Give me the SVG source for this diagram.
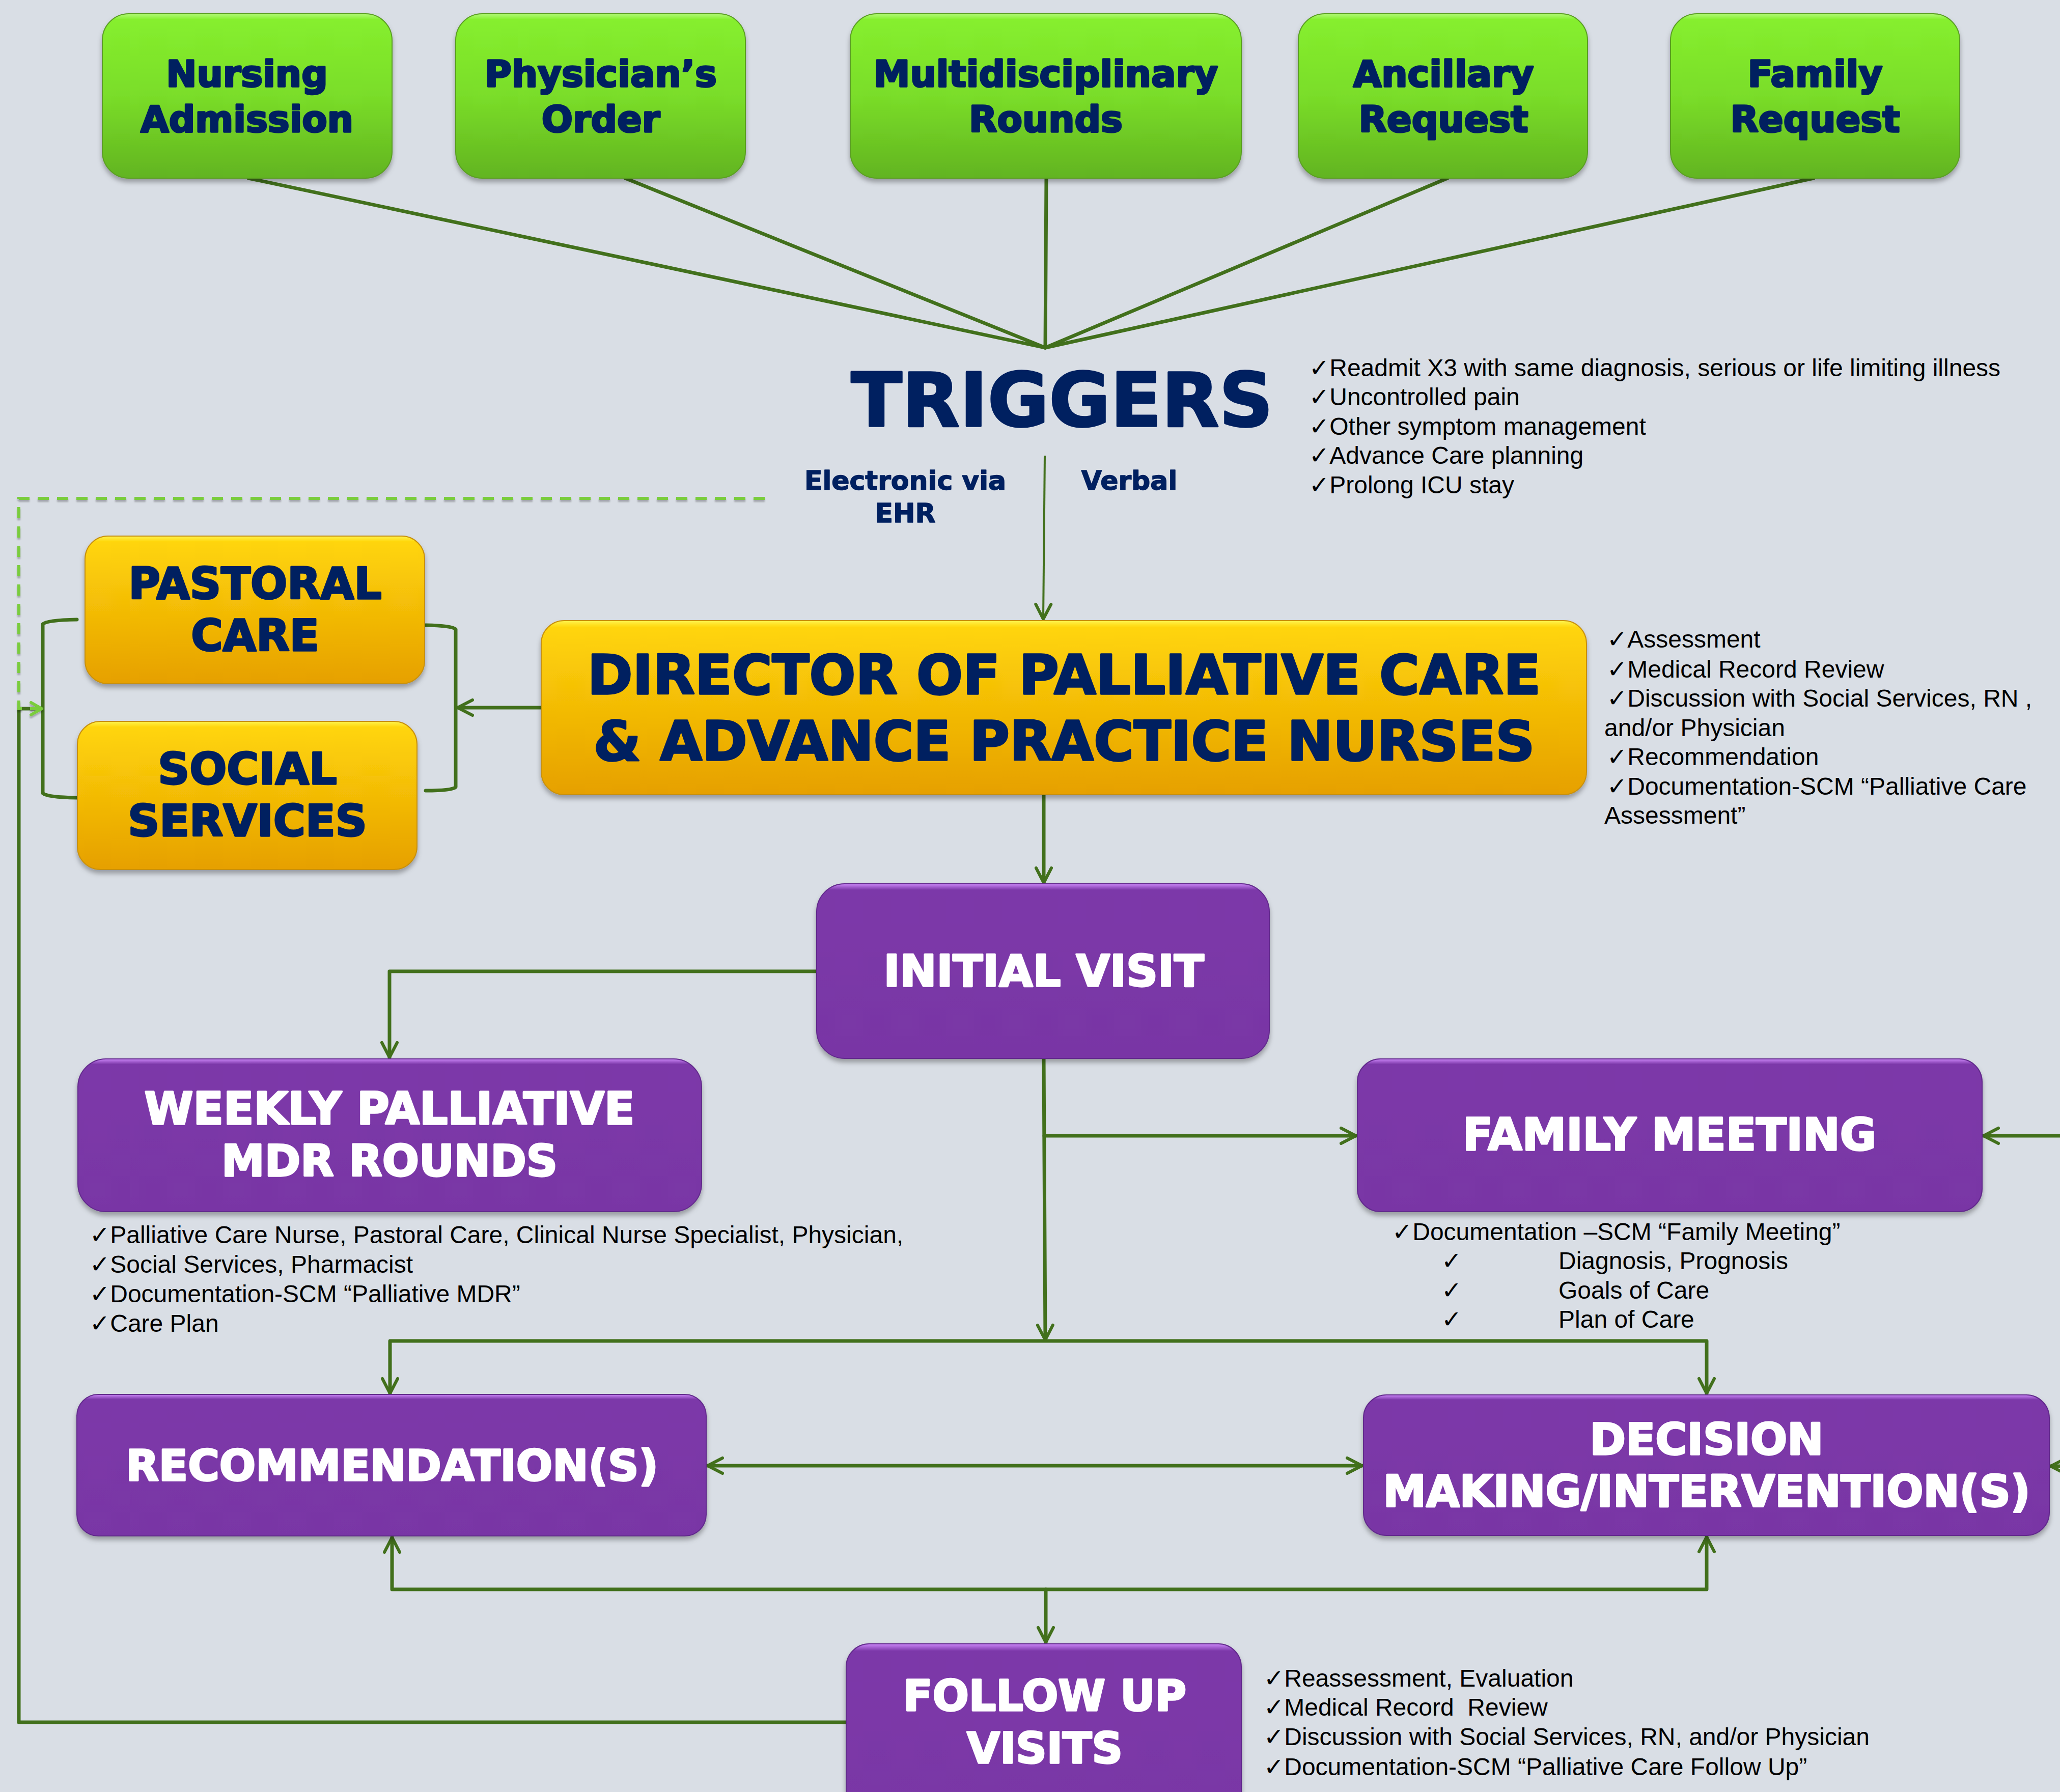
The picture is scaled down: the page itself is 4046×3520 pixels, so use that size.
<svg xmlns="http://www.w3.org/2000/svg" width="4046" height="3520" viewBox="0 0 4046 3520">
<defs>
<style>
.hd{font-family:'DejaVu Sans','Liberation Sans',sans-serif;font-weight:bold;text-anchor:middle}
.navy{fill:#002060;stroke:#002060;stroke-width:3.5;stroke-linejoin:round}
.sm{stroke-width:1.5}
.wh{fill:#ffffff;stroke:#ffffff;stroke-width:3.5;stroke-linejoin:round}
.bul{font-family:'Liberation Sans','DejaVu Sans',sans-serif;font-size:48px;fill:#000000}
.ln{stroke:#42701C;stroke-width:7;fill:none;stroke-linecap:round;stroke-linejoin:round}
.thin{stroke:#42701C;stroke-width:4;fill:none}
.gbox{fill:url(#gG);stroke:#5A9E24;stroke-width:2;filter:url(#sh)}
.ybox{fill:url(#yG);stroke:#C8900A;stroke-width:2;filter:url(#sh)}
.pbox{fill:url(#pG);stroke:#62298C;stroke-width:2;filter:url(#sh)}
</style>
<linearGradient id="gG" x1="0" y1="0" x2="0" y2="1">
<stop offset="0" stop-color="#B2FA78"/><stop offset="0.035" stop-color="#86EF2E"/><stop offset="0.5" stop-color="#7ADD29"/><stop offset="1" stop-color="#62B420"/>
</linearGradient>
<linearGradient id="yG" x1="0" y1="0" x2="0" y2="1">
<stop offset="0" stop-color="#FFF44E"/><stop offset="0.04" stop-color="#FFD508"/><stop offset="1" stop-color="#E6A004"/>
</linearGradient>
<linearGradient id="pG" x1="0" y1="0" x2="0" y2="1">
<stop offset="0" stop-color="#CB86F7"/><stop offset="0.035" stop-color="#7C38A9"/><stop offset="1" stop-color="#7936A5"/>
</linearGradient>
<filter id="sh" x="-5%" y="-5%" width="110%" height="125%">
<feDropShadow dx="0" dy="7" stdDeviation="5" flood-color="#000" flood-opacity="0.3"/>
</filter>
<filter id="lsh" x="-5%" y="-5%" width="110%" height="110%">
<feDropShadow dx="0" dy="4" stdDeviation="1.5" flood-color="#000" flood-opacity="0.25"/>
</filter>
<marker id="ah" viewBox="-40 -25 50 50" refX="0" refY="0" markerWidth="50" markerHeight="50" markerUnits="userSpaceOnUse" orient="auto-start-reverse">
<path d="M-29,-15 L0,0 L-29,15" fill="none" stroke="#42701C" stroke-width="6" stroke-linecap="round" stroke-linejoin="round"/>
</marker>
<marker id="ahl" viewBox="-40 -25 50 50" refX="0" refY="0" markerWidth="50" markerHeight="50" markerUnits="userSpaceOnUse" orient="auto">
<path d="M-21,-12 L0,0 L-21,12" fill="none" stroke="#7ACC3C" stroke-width="6" stroke-linecap="round" stroke-linejoin="round"/>
</marker>
</defs>

<rect x="0" y="0" width="4046" height="3520" fill="#D9DEE5"/>

<g id="connectors">
<line class="ln" x1="488" y1="350" x2="2053" y2="683"/>
<line class="ln" x1="1228" y1="350" x2="2053" y2="683"/>
<line class="ln" x1="2055" y1="350" x2="2053" y2="683"/>
<line class="ln" x1="2843" y1="350" x2="2053" y2="683"/>
<line class="ln" x1="3562" y1="350" x2="2053" y2="683"/>
<line class="thin" x1="2052" y1="895" x2="2049" y2="1216" marker-end="url(#ah)"/>
<line class="ln" x1="2050" y1="1562" x2="2050" y2="1734" marker-end="url(#ah)"/>
<line class="ln" x1="1063" y1="1390" x2="899" y2="1390" marker-end="url(#ah)"/>
<path class="ln" d="M151,1217 Q92,1218 84,1226 L84,1558 Q92,1566 151,1567"/>
<path class="ln" d="M836,1228 Q888,1229 895,1236 L895,1546 Q888,1553 836,1553"/>
<polyline class="ln" points="1604,1908 765,1908 765,2077" marker-end="url(#ah)"/>
<line class="ln" x1="2050" y1="2079" x2="2053" y2="2632" marker-end="url(#ah)"/>
<line class="ln" x1="2051" y1="2231" x2="2663" y2="2231" marker-end="url(#ah)"/>
<line class="ln" x1="4050" y1="2231" x2="3896" y2="2231" marker-end="url(#ah)"/>
<polyline class="ln" points="766,2737 766,2634 3352,2634 3352,2737" marker-start="url(#ah)" marker-end="url(#ah)"/>
<line class="ln" x1="1390" y1="2879" x2="2675" y2="2879" marker-start="url(#ah)" marker-end="url(#ah)"/>
<line class="ln" x1="4060" y1="2880" x2="4028" y2="2880" marker-end="url(#ah)"/>
<polyline class="ln" points="770,3020 770,3122 3352,3122 3352,3019" marker-start="url(#ah)" marker-end="url(#ah)"/>
<line class="ln" x1="2054" y1="3122" x2="2054" y2="3226" marker-end="url(#ah)"/>
<polyline class="ln" points="1662,3383 37,3383 37,1392 80,1392"/>
<polyline points="1502,979 37,979 37,1392 82,1392" fill="none" stroke="#7ACC3C" stroke-width="6" stroke-dasharray="22,16" marker-end="url(#ahl)" filter="url(#lsh)"/>
</g>

<g id="node-nursing-admission">
<rect class="gbox" x="201" y="27" width="569" height="323" rx="52" ry="52"/>
<text class="hd navy" font-size="72" x="485" y="170">Nursing</text>
<text class="hd navy" font-size="72" x="485" y="259">Admission</text>
</g>
<g id="node-physicians-order">
<rect class="gbox" x="895" y="27" width="569" height="323" rx="52" ry="52"/>
<text class="hd navy" font-size="72" x="1180" y="170">Physician’s</text>
<text class="hd navy" font-size="72" x="1180" y="259">Order</text>
</g>
<g id="node-multidisciplinary-rounds">
<rect class="gbox" x="1670" y="27" width="768" height="323" rx="52" ry="52"/>
<text class="hd navy" font-size="72" x="2054" y="170">Multidisciplinary</text>
<text class="hd navy" font-size="72" x="2054" y="259">Rounds</text>
</g>
<g id="node-ancillary-request">
<rect class="gbox" x="2550" y="27" width="568" height="323" rx="52" ry="52"/>
<text class="hd navy" font-size="72" x="2835" y="170">Ancillary</text>
<text class="hd navy" font-size="72" x="2835" y="259">Request</text>
</g>
<g id="node-family-request">
<rect class="gbox" x="3281" y="27" width="568" height="323" rx="52" ry="52"/>
<text class="hd navy" font-size="72" x="3565" y="170">Family</text>
<text class="hd navy" font-size="72" x="3565" y="259">Request</text>
</g>

<g id="node-triggers">
<text class="hd navy" font-size="147" x="2086" y="837">TRIGGERS</text>
<text class="hd navy sm" font-size="52" x="1778" y="962">Electronic via</text>
<text class="hd navy sm" font-size="52" x="1778" y="1026">EHR</text>
<text class="hd navy sm" font-size="52" x="2218" y="962">Verbal</text>
</g>
<g id="triggers-list" class="bul">
<text x="2571" y="739">✓Readmit X3 with same diagnosis, serious or life limiting illness</text>
<text x="2571" y="796">✓Uncontrolled pain</text>
<text x="2571" y="854">✓Other symptom management</text>
<text x="2571" y="911">✓Advance Care planning</text>
<text x="2571" y="969">✓Prolong ICU stay</text>
</g>

<g id="node-director">
<rect class="ybox" x="1063" y="1219" width="2053" height="342" rx="45" ry="45"/>
<text class="hd navy" font-size="107" x="2090" y="1363">DIRECTOR OF PALLIATIVE CARE</text>
<text class="hd navy" font-size="107" x="2090" y="1493">&amp; ADVANCE PRACTICE NURSES</text>
</g>
<g id="director-list" class="bul">
<text x="3156" y="1272">✓Assessment</text>
<text x="3156" y="1331">✓Medical Record Review</text>
<text x="3156" y="1388">✓Discussion with Social Services, RN ,</text>
<text x="3151" y="1446">and/or Physician</text>
<text x="3156" y="1503">✓Recommendation</text>
<text x="3156" y="1561">✓Documentation-SCM “Palliative Care</text>
<text x="3151" y="1618">Assessment”</text>
</g>

<g id="node-pastoral-care">
<rect class="ybox" x="167" y="1053" width="667" height="290" rx="45" ry="45"/>
<text class="hd navy" font-size="85" x="501" y="1176">PASTORAL</text>
<text class="hd navy" font-size="85" x="501" y="1278">CARE</text>
</g>
<g id="node-social-services">
<rect class="ybox" x="152" y="1417" width="667" height="291" rx="45" ry="45"/>
<text class="hd navy" font-size="86" x="486" y="1540">SOCIAL</text>
<text class="hd navy" font-size="86" x="486" y="1642">SERVICES</text>
</g>

<g id="node-initial-visit">
<rect class="pbox" x="1604" y="1736" width="889" height="343" rx="55" ry="55"/>
<text class="hd wh" font-size="86" x="2050" y="1937">INITIAL VISIT</text>
</g>

<g id="node-weekly-mdr">
<rect class="pbox" x="153" y="2080" width="1225" height="300" rx="55" ry="55"/>
<text class="hd wh" font-size="87" x="765" y="2208">WEEKLY PALLIATIVE</text>
<text class="hd wh" font-size="85" x="765" y="2310">MDR ROUNDS</text>
</g>
<g id="weekly-list" class="bul">
<text x="176" y="2442">✓Palliative Care Nurse, Pastoral Care, Clinical Nurse Specialist, Physician,</text>
<text x="176" y="2500">✓Social Services, Pharmacist</text>
<text x="176" y="2558">✓Documentation-SCM “Palliative MDR”</text>
<text x="176" y="2616">✓Care Plan</text>
</g>

<g id="node-family-meeting">
<rect class="pbox" x="2666" y="2080" width="1227" height="300" rx="45" ry="45"/>
<text class="hd wh" font-size="87" x="3279" y="2259">FAMILY MEETING</text>
</g>
<g id="family-list" class="bul">
<text x="2734" y="2436">✓Documentation –SCM “Family Meeting”</text>
<text y="2493"><tspan x="2831">✓</tspan><tspan x="3061">Diagnosis, Prognosis</tspan></text>
<text y="2551"><tspan x="2831">✓</tspan><tspan x="3061">Goals of Care</tspan></text>
<text y="2608"><tspan x="2831">✓</tspan><tspan x="3061">Plan of Care</tspan></text>
</g>

<g id="node-recommendations">
<rect class="pbox" x="151" y="2739" width="1236" height="278" rx="42" ry="42"/>
<text class="hd wh" font-size="84" x="770" y="2908">RECOMMENDATION(S)</text>
</g>

<g id="node-decision">
<rect class="pbox" x="2678" y="2740" width="1347" height="276" rx="45" ry="45"/>
<text class="hd wh" font-size="85" x="3352" y="2857">DECISION</text>
<text class="hd wh" font-size="85" x="3352" y="2959">MAKING/INTERVENTION(S)</text>
</g>

<g id="node-follow-up">
<rect class="pbox" x="1662" y="3229" width="776" height="400" rx="45" ry="45"/>
<text class="hd wh" font-size="84" x="2052" y="3360">FOLLOW UP</text>
<text class="hd wh" font-size="84" x="2052" y="3463">VISITS</text>
</g>
<g id="followup-list" class="bul">
<text x="2482" y="3313">✓Reassessment, Evaluation</text>
<text x="2482" y="3370">✓Medical Record&#160; Review</text>
<text x="2482" y="3428">✓Discussion with Social Services, RN, and/or Physician</text>
<text x="2482" y="3487">✓Documentation-SCM “Palliative Care Follow Up”</text>
</g>
</svg>
